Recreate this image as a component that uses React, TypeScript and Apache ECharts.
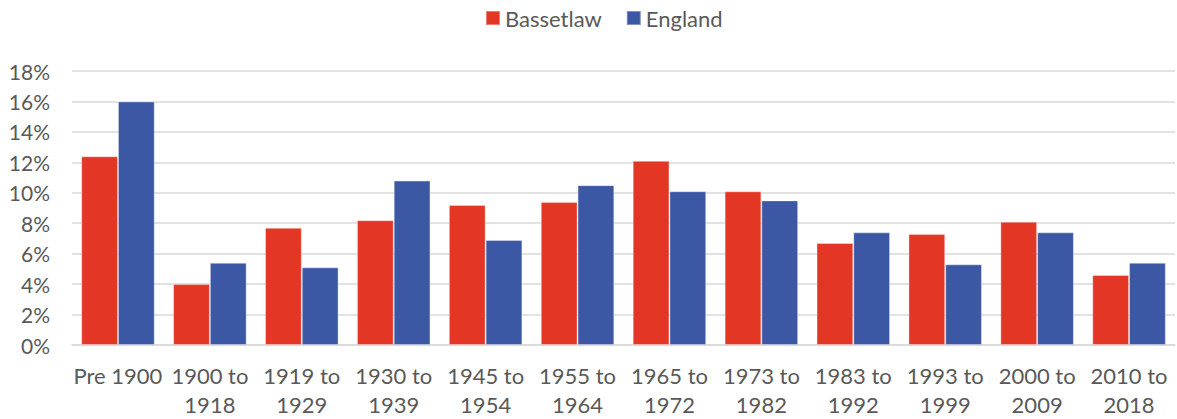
import React, { useEffect, useRef } from "react";
import * as echarts from "echarts";

const categories = [
  "Pre 1900",
  "1900 to\n1918",
  "1919 to\n1929",
  "1930 to\n1939",
  "1945 to\n1954",
  "1955 to\n1964",
  "1965 to\n1972",
  "1973 to\n1982",
  "1983 to\n1992",
  "1993 to\n1999",
  "2000 to\n2009",
  "2010 to\n2018",
];
const bassetlaw = [12.4, 4.0, 7.7, 8.2, 9.2, 9.4, 12.1, 10.1, 6.7, 7.3, 8.1, 4.6];
const england = [16.0, 5.4, 5.1, 10.8, 6.9, 10.5, 10.1, 9.5, 7.4, 5.3, 7.4, 5.4];

const FONT = "Lato, 'Noto Sans', sans-serif";
const TEXT = "#595959";

export default function App() {
  const ref = useRef<HTMLDivElement>(null);
  useEffect(() => {
    if (!ref.current) return;
    const chart = echarts.init(ref.current, undefined, { renderer: "svg" });
    chart.setOption({
      animation: false,
      backgroundColor: "#ffffff",
      textStyle: { fontFamily: FONT },
      legend: {
        top: 2,
        left: 480,
        itemWidth: 14,
        itemHeight: 14,
        itemGap: 24,
        icon: "rect",
        textStyle: { fontFamily: FONT, fontSize: 22, color: TEXT },
        data: ["Bassetlaw", "England"],
      },
      grid: { left: 72, right: 2, top: 71, bottom: 73, containLabel: false },
      xAxis: {
        type: "category",
        data: categories,
        axisLine: { show: true, lineStyle: { color: "#d9d9d9", width: 1.5 } },
        axisTick: { show: false },
        axisLabel: {
          fontFamily: FONT,
          fontSize: 22,
          color: TEXT,
          lineHeight: 29,
          margin: 16,
          interval: 0,
        },
      },
      yAxis: {
        type: "value",
        min: 0,
        max: 18,
        interval: 2,
        axisLine: { show: false },
        axisTick: { show: false },
        splitLine: { lineStyle: { color: "#d9d9d9", width: 1.5 } },
        axisLabel: {
          fontFamily: FONT,
          fontSize: 21,
          color: TEXT,
          margin: 22,
          formatter: (v: number) => `${v}%`,
        },
      },
      series: [
        {
          name: "Bassetlaw",
          type: "bar",
          data: bassetlaw,
          barGap: "0%",
          barCategoryGap: "20%",
          itemStyle: { color: "#e43625", borderColor: "rgba(255,255,255,0.35)", borderWidth: 1 },
        },
        {
          name: "England",
          type: "bar",
          data: england,
          barGap: "0%",
          barCategoryGap: "20%",
          itemStyle: { color: "#3c57a3", borderColor: "rgba(255,255,255,0.35)", borderWidth: 1 },
        },
      ],
    });
    return () => chart.dispose();
  }, []);
  return (
    <div
      ref={ref}
      style={{ position: "absolute", left: 0, top: 0, width: 1177, height: 419 }}
    />
  );
}
